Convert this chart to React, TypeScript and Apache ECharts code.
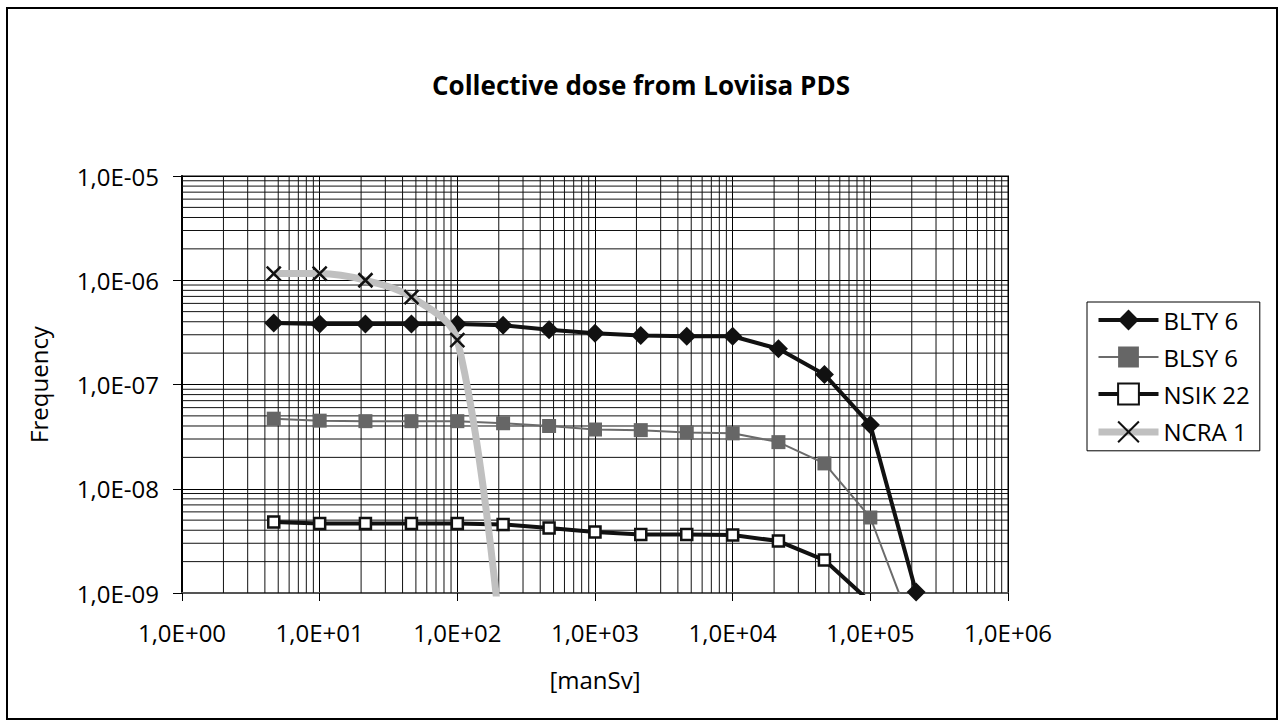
import React, { useEffect, useRef } from "react";
import * as echarts from "echarts";

const X_VALUES = [4.64, 10, 21.5, 46.4, 100, 215, 464, 1000, 2150, 4640, 10000, 21500, 46400, 100000, 215000];
const BLTY6 = [3.9e-7, 3.8e-7, 3.8e-7, 3.8e-7, 3.8e-7, 3.7e-7, 3.35e-7, 3.1e-7, 2.95e-7, 2.9e-7, 2.9e-7, 2.2e-7, 1.25e-7, 4.1e-8, 1.02e-9];
const BLSY6 = [4.7e-8, 4.5e-8, 4.45e-8, 4.45e-8, 4.45e-8, 4.25e-8, 4.0e-8, 3.7e-8, 3.65e-8, 3.47e-8, 3.4e-8, 2.8e-8, 1.75e-8, 5.3e-9, 3.7e-10];
const NSIK22 = [4.8e-9, 4.65e-9, 4.65e-9, 4.65e-9, 4.65e-9, 4.55e-9, 4.2e-9, 3.85e-9, 3.65e-9, 3.65e-9, 3.6e-9, 3.15e-9, 2.07e-9, 8.2e-10, null];
const NCRA1 = [1.16e-6, 1.16e-6, 1.0e-6, 6.9e-7, 2.67e-7, 2.0e-10, null, null, null, null, null, null, null, null, null];

const SERIES_NAMES = ["BLTY 6", "BLSY 6", "NSIK 22", "NCRA 1"];
const LINE_COLORS = ["#111", "#6b6b6b", "#111", "#c0c0c0"];
const LINE_WIDTHS = [4, 2, 4, 7];
const X_MIN = 1;
const X_MAX = 1e6;
const Y_MIN = 1e-9;
const Y_MAX = 1e-5;
const X_DECADES = [1, 10, 100, 1000, 10000, 100000];
const Y_DECADES = [1e-9, 1e-8, 1e-7, 1e-6];
const MINOR_STEPS = [2, 3, 4, 5, 6, 7, 8, 9];

const FONT = "'Open Sans', 'Noto Sans', sans-serif";

function fmtExp(v: number) {
  const e = Math.round(Math.log10(v));
  const sign = e < 0 ? "-" : "+";
  const a = Math.abs(e);
  return "1,0E" + sign + (a < 10 ? "0" + a : "" + a);
}

function pairs(ys: (number | null)[]) {
  return X_VALUES.map((x, i) => [x, ys[i] == null ? null : ys[i]]);
}

const X_PATH = "path://M0,0L10,10M10,0L0,10";

export default function App() {
  const ref = useRef<HTMLDivElement>(null);
  useEffect(() => {
    document.body.style.margin = "0";
    if (!ref.current) return;
    const chart = echarts.init(ref.current, undefined, { renderer: "svg" });

    const minorX: number[][] = [];
    X_DECADES.forEach((d) => MINOR_STEPS.forEach((k) => minorX.push([d * k, Y_MIN])));
    const minorY: number[][] = [];
    Y_DECADES.forEach((d) => MINOR_STEPS.forEach((k) => minorY.push([X_MIN, d * k])));

    const option: any = {
      animation: false,
      backgroundColor: "#fff",
      title: {
        text: "Collective dose from Loviisa PDS",
        left: 636,
        top: 67,
        textAlign: "center",
        textStyle: { fontFamily: FONT, fontSize: 26, fontWeight: "bold", color: "#000" },
      },
      grid: {
        left: 182,
        top: 176,
        width: 826,
        height: 417,
        show: true,
        borderColor: "#808080",
        borderWidth: 2,
        backgroundColor: "transparent",
      },
      legend: {
        orient: "vertical",
        left: 1087,
        top: 302,
        data: SERIES_NAMES.map((n, i) => ({
          name: n,
          lineStyle: { width: LINE_WIDTHS[i], color: LINE_COLORS[i] },
        })),
        itemWidth: 60,
        itemHeight: 26,
        itemGap: 13,
        padding: [6, 10, 6, 8],
        borderColor: "#000",
        borderWidth: 1,
        textStyle: { fontFamily: FONT, fontSize: 24, color: "#000" },
      },
      graphic: [
        {
          type: "rect",
          shape: { x: 7, y: 8, width: 1270, height: 711 },
          style: { fill: "none", stroke: "#000", lineWidth: 2 },
          silent: true,
        },
      ],
      xAxis: {
        type: "log",
        logBase: 10,
        min: X_MIN,
        max: X_MAX,
        interval: 1,
        name: "[manSv]",
        nameLocation: "middle",
        nameGap: 74,
        nameTextStyle: { fontFamily: FONT, fontSize: 24, color: "#000" },
        axisLine: { show: true, lineStyle: { color: "#555", width: 2 } },
        axisTick: { show: true, length: 8, lineStyle: { color: "#000" } },
        axisLabel: { margin: 27, fontFamily: FONT, fontSize: 24, color: "#000", formatter: fmtExp },
        splitLine: { show: true, lineStyle: { color: "#000", width: 1 } },
      },
      yAxis: {
        type: "log",
        logBase: 10,
        min: Y_MIN,
        max: Y_MAX,
        interval: 1,
        name: "Frequency",
        nameLocation: "middle",
        nameGap: 132,
        nameTextStyle: { fontFamily: FONT, fontSize: 24, color: "#000" },
        axisLine: { show: true, lineStyle: { color: "#000", width: 2 } },
        axisTick: { show: true, length: 9, lineStyle: { color: "#000" } },
        axisLabel: { margin: 23, fontFamily: FONT, fontSize: 24, color: "#000", formatter: fmtExp },
        splitLine: { show: true, lineStyle: { color: "#000", width: 1 } },
      },
      series: [
        {
          type: "custom",
          name: "minorX",
          silent: true,
          z: 1,
          data: minorX,
          renderItem: (params: any, api: any) => {
            const v = api.value(0);
            const p1 = api.coord([v, Y_MIN]);
            const p2 = api.coord([v, Y_MAX]);
            return {
              type: "line",
              shape: { x1: p1[0], y1: p1[1], x2: p2[0], y2: p2[1] },
              style: { stroke: "#111", lineWidth: 1 },
            };
          },
        },
        {
          type: "custom",
          name: "minorY",
          silent: true,
          z: 1,
          data: minorY,
          renderItem: (params: any, api: any) => {
            const v = api.value(1);
            const p1 = api.coord([X_MIN, v]);
            const p2 = api.coord([X_MAX, v]);
            return {
              type: "line",
              shape: { x1: p1[0], y1: p1[1], x2: p2[0], y2: p2[1] },
              style: { stroke: "#111", lineWidth: 1 },
            };
          },
        },
        {
          type: "line",
          name: SERIES_NAMES[0],
          data: pairs(BLTY6),
          z: 3,
          symbol: "diamond",
          symbolSize: [19, 19],
          showAllSymbol: true,
          lineStyle: { color: LINE_COLORS[0], width: LINE_WIDTHS[0] },
          itemStyle: { color: "#111", borderWidth: 0 },
        },
        {
          type: "line",
          name: SERIES_NAMES[1],
          data: pairs(BLSY6),
          z: 3,
          symbol: "rect",
          symbolSize: 14,
          showAllSymbol: true,
          lineStyle: { color: LINE_COLORS[1], width: LINE_WIDTHS[1] },
          itemStyle: { color: "#666", borderWidth: 0 },
        },
        {
          type: "line",
          name: SERIES_NAMES[2],
          data: pairs(NSIK22),
          z: 3,
          symbol: "rect",
          symbolSize: 11,
          showAllSymbol: true,
          lineStyle: { color: LINE_COLORS[2], width: LINE_WIDTHS[2] },
          itemStyle: { color: "#fff", borderColor: "#111", borderWidth: 2.5 },
        },
        {
          type: "line",
          name: SERIES_NAMES[3],
          data: pairs(NCRA1),
          z: 4,
          smooth: 0.35,
          symbol: X_PATH,
          symbolSize: 14,
          showAllSymbol: true,
          lineStyle: { color: LINE_COLORS[3], width: LINE_WIDTHS[3] },
          itemStyle: { color: "none", borderColor: "#111", borderWidth: 2.5 },
        },
      ],
    };
    chart.setOption(option);
    return () => chart.dispose();
  }, []);
  return <div ref={ref} style={{ width: 1284, height: 727 }} />;
}
